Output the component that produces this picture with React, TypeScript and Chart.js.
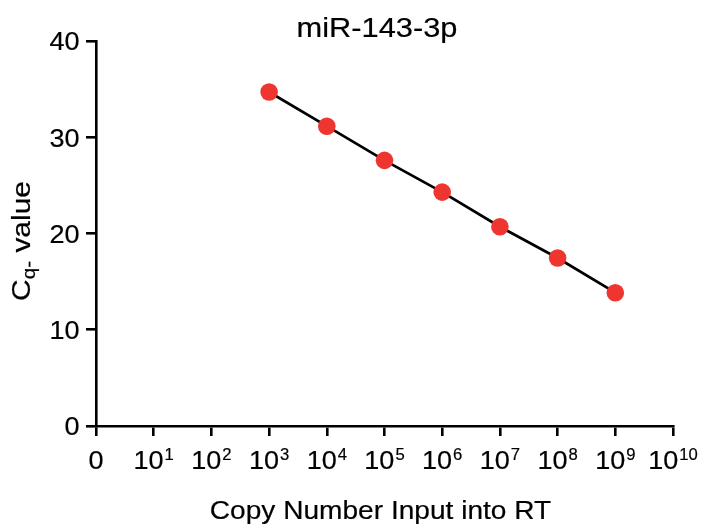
import React, { useEffect, useRef } from "react";
import { Chart, registerables } from "chart.js";

Chart.register(...registerables);

// ---- data ----
const titleText = "miR-143-3p";
const xAxisTitle = "Copy Number Input into RT";
const yAxisTitleMain = "C";
const yAxisTitleSub = "q-";
const yAxisTitleRest = " value";
const xTickValues = [0, 1, 2, 3, 4, 5, 6, 7, 8, 9, 10];
const xTickBase = ["0", "10", "10", "10", "10", "10", "10", "10", "10", "10", "10"];
const xTickSup = ["", "1", "2", "3", "4", "5", "6", "7", "8", "9", "10"];
const yTickValues = [0, 10, 20, 30, 40];
const yTickLabels = ["0", "10", "20", "30", "40"];
const logCopyNumber = [3, 4, 5, 6, 7, 8, 9];
const cqValues = [34.7, 31.15, 27.6, 24.3, 20.7, 17.45, 13.85];
const yMin = 0;
const yMax = 40;

const FONT = "'Liberation Sans', Arial, Helvetica, sans-serif";

function drawStretched(ctx: CanvasRenderingContext2D, text: string, x: number, y: number, sx: number) {
  ctx.save();
  ctx.translate(x, y);
  ctx.scale(sx, 1);
  ctx.lineWidth = 0.2;
  ctx.strokeStyle = "#000";
  ctx.lineJoin = "round";
  ctx.strokeText(text, 0, 0);
  ctx.fillText(text, 0, 0);
  ctx.restore();
}

const textPlugin = {
  id: "customText",
  afterDraw(chart: any) {
    const ctx: CanvasRenderingContext2D = chart.ctx;
    const xScale = chart.scales.x;
    const yScale = chart.scales.y;
    const area = chart.chartArea;
    ctx.save();
    ctx.fillStyle = "#000";
    ctx.textBaseline = "alphabetic";
    ctx.textAlign = "left";

    // title
    ctx.font = `28px ${FONT}`;
    const tsx = 1.1;
    const tw = ctx.measureText(titleText).width * tsx;
    drawStretched(ctx, titleText, 377 - tw / 2, 37, tsx);

    // y tick labels
    const ysxTick = 1.04;
    ctx.font = `26px ${FONT}`;
    yTickValues.forEach((v, i) => {
      const py = yScale.getPixelForValue(v);
      const w = ctx.measureText(yTickLabels[i]).width * ysxTick;
      drawStretched(ctx, yTickLabels[i], 79.5 - w, py + 9.3, ysxTick);
    });

    // x tick labels with superscripts
    const baseSx = 1.04;
    const baseline = area.bottom + 43;
    xTickValues.forEach((v, i) => {
      const px = xScale.getPixelForValue(v);
      ctx.font = `26px ${FONT}`;
      const bw = ctx.measureText(xTickBase[i]).width * baseSx;
      ctx.font = `16px ${FONT}`;
      const sw = xTickSup[i] ? ctx.measureText(xTickSup[i]).width * baseSx + 1 : 0;
      const start = px - (bw + sw) / 2;
      ctx.font = `26px ${FONT}`;
      drawStretched(ctx, xTickBase[i], start, baseline, baseSx);
      if (xTickSup[i]) {
        ctx.font = `16px ${FONT}`;
        drawStretched(ctx, xTickSup[i], start + bw + 1, baseline - 9.5, baseSx);
      }
    });

    // x axis title
    ctx.font = `26.5px ${FONT}`;
    const xsx = 1.06;
    const xw = ctx.measureText(xAxisTitle).width * xsx;
    drawStretched(ctx, xAxisTitle, 380.5 - xw / 2, 518.5, xsx);

    // y axis title (rotated)
    const ysx = 1.15;
    ctx.font = `26px ${FONT}`;
    const w1 = ctx.measureText(yAxisTitleMain).width * ysx;
    const w3 = ctx.measureText(yAxisTitleRest).width * ysx;
    ctx.font = `18px ${FONT}`;
    const w2 = ctx.measureText(yAxisTitleSub).width * ysx;
    const total = w1 + w2 + w3;
    ctx.save();
    ctx.translate(30, 241);
    ctx.rotate(-Math.PI / 2);
    let cx = -total / 2;
    ctx.font = `26px ${FONT}`;
    drawStretched(ctx, yAxisTitleMain, cx, 0, ysx);
    cx += w1;
    ctx.font = `18px ${FONT}`;
    drawStretched(ctx, yAxisTitleSub, cx, 4.5, ysx);
    cx += w2;
    ctx.font = `26px ${FONT}`;
    drawStretched(ctx, yAxisTitleRest, cx, 0, ysx);
    ctx.restore();

    ctx.restore();
  },
};

export default function App() {
  const canvasRef = useRef<HTMLCanvasElement | null>(null);

  useEffect(() => {
    document.body.style.margin = "0";
    const canvas = canvasRef.current;
    if (!canvas) return;
    const chart = new Chart(canvas, {
      type: "line",
      data: {
        datasets: [
          {
            data: logCopyNumber.map((x, i) => ({ x, y: cqValues[i] })),
            borderColor: "#000000",
            borderWidth: 2.7,
            pointRadius: 8.8,
            pointHoverRadius: 8.8,
            pointBackgroundColor: "#EE3530",
            pointBorderColor: "#EE3530",
            pointBorderWidth: 0,
            fill: false,
            tension: 0,
          },
        ],
      },
      options: {
        responsive: false,
        animation: false,
        events: [],
        layout: { padding: { top: 41, right: 30, left: 0, bottom: 0 } },
        plugins: {
          legend: { display: false },
          title: { display: false },
          tooltip: { enabled: false },
        },
        scales: {
          x: {
            type: "linear",
            min: 0,
            max: 10,
            afterBuildTicks: (scale: any) => {
              scale.ticks = xTickValues.map((v) => ({ value: v }));
            },
            afterFit: (scale: any) => {
              scale.height = 105;
            },
            ticks: {
              callback: () => "",
              font: { size: 25, family: FONT },
            },
            grid: {
              drawOnChartArea: false,
              drawTicks: true,
              tickLength: 10,
              lineWidth: 2.6,
              color: "#000",
            },
            border: { display: true, color: "#000", width: 2.6 },
          },
          y: {
            type: "linear",
            min: yMin,
            max: yMax,
            afterBuildTicks: (scale: any) => {
              scale.ticks = yTickValues.map((v) => ({ value: v }));
            },
            afterFit: (scale: any) => {
              scale.width = 96;
            },
            ticks: {
              callback: () => "",
              font: { size: 25, family: FONT },
            },
            grid: {
              drawOnChartArea: false,
              drawTicks: true,
              tickLength: 10,
              lineWidth: 2.6,
              color: "#000",
            },
            border: { display: true, color: "#000", width: 2.6 },
          },
        },
      },
      plugins: [textPlugin],
    });
    return () => chart.destroy();
  }, []);

  return (
    <div style={{ width: 703, height: 531 }}>
      <canvas ref={canvasRef} width={703} height={531} style={{ display: "block" }} />
    </div>
  );
}
